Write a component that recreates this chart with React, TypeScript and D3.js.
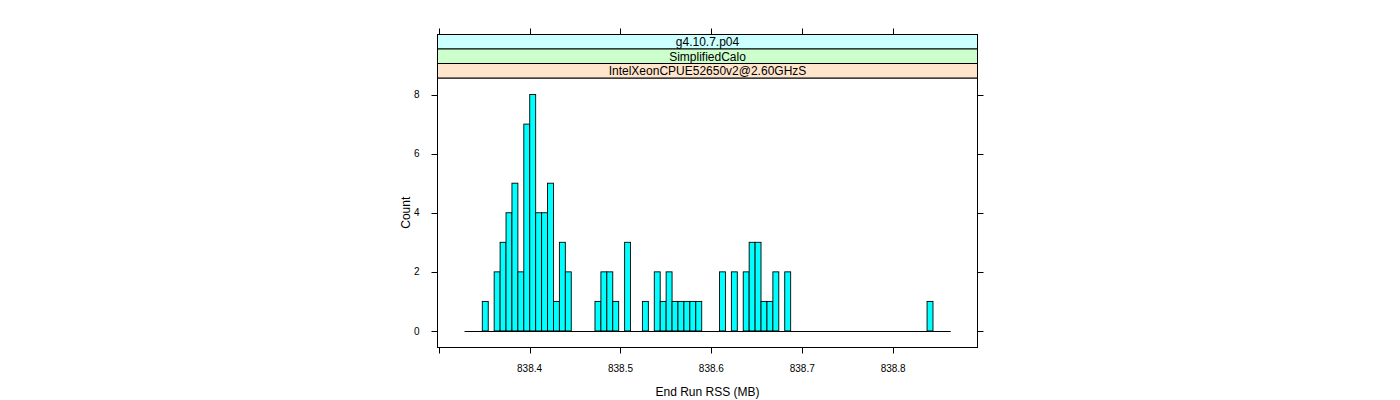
import React from "react";
import * as d3 from "d3";

const stripLabels = ["g4.10.7.p04", "SimplifiedCalo", "IntelXeonCPUE52650v2@2.60GHzS"];
const stripColors = ["#ccffff", "#ccffcc", "#ffe5cc"];
const binStart = 838.3284;
const binEnd = 838.8634;
const binCounts = [
  0, 0, 0, 1, 0, 2, 3, 4, 5, 2,
  7, 8, 4, 4, 5, 1, 3, 2, 0, 0,
  0, 0, 1, 2, 2, 1, 0, 3, 0, 0,
  1, 0, 2, 1, 2, 1, 1, 1, 1, 1,
  0, 0, 0, 2, 0, 2, 0, 2, 3, 3,
  1, 1, 2, 0, 2, 0, 0, 0, 0, 0,
  0, 0, 0, 0, 0, 0, 0, 0, 0, 0,
  0, 0, 0, 0, 0, 0, 0, 0, 1, 0,
  0, 0,
];
const xTicks = [838.3, 838.4, 838.5, 838.6, 838.7, 838.8];
const xTickLabels = ["", "838.4", "838.5", "838.6", "838.7", "838.8"];
const yTicks = [0, 2, 4, 6, 8];
const xTitle = "End Run RSS (MB)";
const yTitle = "Count";

export default function App() {
  const L = 437.5, R = 977.5, T = 78, B = 347.5;
  const stripH = 14.5;
  const stripTop = T - stripH * stripLabels.length;
  const x = d3.scaleLinear().domain([838.29868, 838.8928]).range([L, R]);
  const y = d3.scaleLinear().domain([-0.56, 8.56]).range([B, T]);
  const n = binCounts.length;
  const bw = (binEnd - binStart) / n;
  const font = "'Liberation Sans', Arial, Helvetica, sans-serif";
  const axisCol = "#000";
  const y0 = Math.round(y(0)) + 0.5;
  return (
    <svg width={1400} height={400} style={{ position: "absolute", left: 0, top: 0 }} fontFamily={font}>
      <rect x={0} y={0} width={1400} height={400} fill="#fff" />
      {/* zero-height bins baseline */}
      <line x1={x(binStart)} x2={x(binEnd)} y1={y0} y2={y0} stroke="#000" strokeWidth={1} />
      {/* bars */}
      {binCounts.map((c, i) => {
        if (c === 0) return null;
        const x0 = x(binStart + i * bw);
        const x1 = x(binStart + (i + 1) * bw);
        return (
          <rect key={i} x={x0} y={y(c)} width={x1 - x0} height={y(0) - y(c)}
            fill="#00ffff" stroke="#000" strokeWidth={0.9} />
        );
      })}
      {/* panel border */}
      <rect x={L} y={T} width={R - L} height={B - T} fill="none" stroke={axisCol} strokeWidth={1} />
      {/* strips */}
      {stripLabels.map((s, i) => (
        <g key={s}>
          <rect x={L} y={stripTop + i * stripH} width={R - L} height={stripH} fill={stripColors[i]} stroke={axisCol} strokeWidth={1} />
          <text x={(L + R) / 2} y={stripTop + i * stripH + stripH / 2 + 4.3} textAnchor="middle" fontSize={12} fill="#000">{s}</text>
        </g>
      ))}
      {/* x axis ticks bottom and top */}
      {xTicks.map((t, i) => (
        <g key={t}>
          <line x1={Math.round(x(t)) + 0.5} x2={Math.round(x(t)) + 0.5} y1={B} y2={B + 6} stroke={axisCol} />
          <line x1={Math.round(x(t)) + 0.5} x2={Math.round(x(t)) + 0.5} y1={stripTop} y2={stripTop - 6} stroke={axisCol} />
          {xTickLabels[i] && (
            <text x={x(t)} y={372} textAnchor="middle" fontSize={10} fill="#000">{xTickLabels[i]}</text>
          )}
        </g>
      ))}
      {/* y axis ticks left and right */}
      {yTicks.map((t) => (
        <g key={t}>
          <line x1={L - 6} x2={L} y1={Math.round(y(t)) + 0.5} y2={Math.round(y(t)) + 0.5} stroke={axisCol} />
          <line x1={R} x2={R + 6} y1={Math.round(y(t)) + 0.5} y2={Math.round(y(t)) + 0.5} stroke={axisCol} />
          <text x={419.5} y={y(t) + 3.6} textAnchor="end" fontSize={10} fill="#000">{t}</text>
        </g>
      ))}
      <text x={(L + R) / 2} y={396} textAnchor="middle" fontSize={12} fill="#000">{xTitle}</text>
      <text transform={`translate(409.5, ${(T + B) / 2}) rotate(-90)`} textAnchor="middle" fontSize={12} fill="#000">{yTitle}</text>
    </svg>
  );
}
